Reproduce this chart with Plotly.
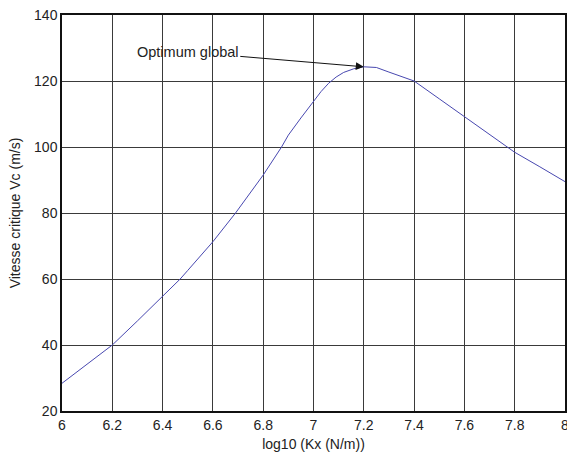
import plotly.graph_objects as go

log_kx = [6.0, 6.1, 6.2, 6.3, 6.4, 6.47, 6.5, 6.6, 6.69, 6.8, 6.873, 6.9, 6.95, 7.0, 7.03,
          7.06, 7.09, 7.12, 7.16, 7.2, 7.25, 7.3, 7.35, 7.4, 7.5, 7.6, 7.7, 7.8, 7.9, 8.0]
vc = [28.4, 34.2, 40.0, 47.3, 54.6, 60.0, 62.6, 71.3, 80.0, 91.5, 100.0, 103.6, 108.8, 113.7, 116.8,
      119.3, 121.2, 122.6, 123.7, 124.3, 124.1, 122.7, 121.4, 120.0, 114.6, 109.2, 103.9, 98.4, 94.0, 89.5]

x_ticks = [6, 6.2, 6.4, 6.6, 6.8, 7, 7.2, 7.4, 7.6, 7.8, 8]
x_tick_labels = ["6", "6.2", "6.4", "6.6", "6.8", "7", "7.2", "7.4", "7.6", "7.8", "8"]
y_ticks = [20, 40, 60, 80, 100, 120, 140]

font_family = "Liberation Sans, Arial, sans-serif"
txt = dict(family=font_family, size=14, color="#222222")

fig = go.Figure()
fig.add_trace(go.Scatter(x=log_kx, y=vc, mode="lines",
                         line=dict(color="#4848b0", width=1), showlegend=False))

fig.add_annotation(x=7.2, y=124.3, ax=6.5, ay=128.8, xref="x", yref="y",
                   axref="x", ayref="y", text="Optimum global", showarrow=True,
                   arrowhead=2, arrowsize=1.6, arrowwidth=1, arrowcolor="#111111",
                   font=dict(family=font_family, size=14.5, color="#222222"))

axis_common = dict(showgrid=True, gridcolor="#3a3a3a", gridwidth=1,
                   showline=True, linecolor="#111111", linewidth=1.5, mirror=True,
                   ticks="", zeroline=False, automargin=False, tickfont=txt,
                   ticklabeloverflow="allow")

fig.update_xaxes(range=[6, 8], tickvals=x_ticks, ticktext=x_tick_labels,
                 title=dict(text="log10 (Kx (N/m))", standoff=8, font=txt),
                 **axis_common)
fig.update_yaxes(range=[20, 140], tickvals=y_ticks,
                 title=dict(text="Vitesse critique Vc (m/s)", standoff=10, font=txt),
                 **axis_common)

fig.update_layout(width=567, height=455, template="none",
                  margin=dict(l=62, r=2, t=15, b=44),
                  paper_bgcolor="white", plot_bgcolor="white")

fig.write_html("out.html", config={"displayModeBar": False},
               post_script="document.body.style.margin='0';document.body.style.overflow='hidden';")
